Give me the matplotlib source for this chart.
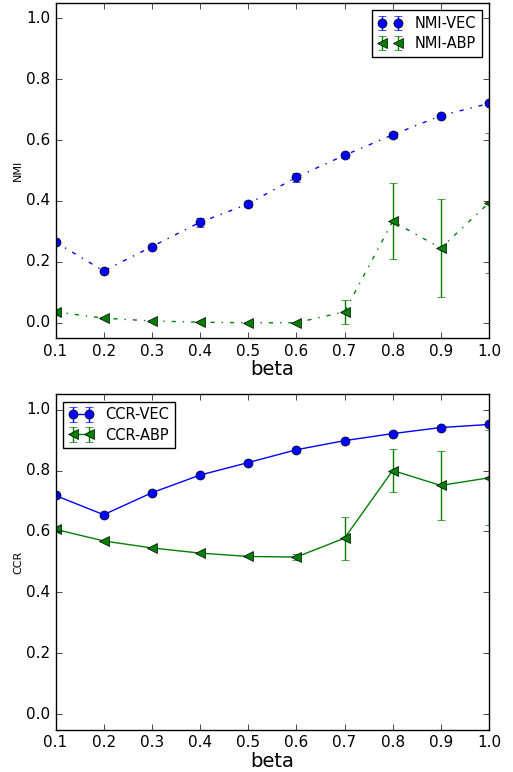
import matplotlib
matplotlib.use("Agg")
import matplotlib.pyplot as plt

plt.style.use('classic')

beta = [0.1, 0.2, 0.3, 0.4, 0.5, 0.6, 0.7, 0.8, 0.9, 1.0]

nmi_vec = [0.265, 0.170, 0.250, 0.330, 0.390, 0.478, 0.550, 0.617, 0.680, 0.720]
nmi_vec_err = [0.005, 0.005, 0.005, 0.015, 0.010, 0.015, 0.008, 0.010, 0.005, 0.005]
nmi_abp = [0.036, 0.015, 0.006, 0.002, 0.000, 0.000, 0.036, 0.333, 0.245, 0.394]
nmi_abp_err = [0.003, 0.003, 0.002, 0.001, 0.001, 0.001, 0.040, 0.125, 0.162, 0.230]

ccr_vec = [0.718, 0.655, 0.727, 0.785, 0.826, 0.868, 0.898, 0.921, 0.941, 0.951]
ccr_vec_err = [0.004, 0.004, 0.004, 0.004, 0.004, 0.004, 0.004, 0.004, 0.004, 0.004]
ccr_abp = [0.607, 0.569, 0.546, 0.529, 0.518, 0.516, 0.578, 0.800, 0.751, 0.776]
ccr_abp_err = [0.003, 0.003, 0.003, 0.003, 0.003, 0.010, 0.070, 0.070, 0.113, 0.156]

fig = plt.figure(figsize=(5.13, 7.72), dpi=100)

leg_kw = dict(fontsize=10.5, labelspacing=0.35, borderpad=0.4, handlelength=1.7)

ax1 = fig.add_axes([55.5 / 513, 1 - 338 / 772, (489 - 55.5) / 513, 335 / 772])
ax1.errorbar(beta, nmi_vec, yerr=nmi_vec_err, color='b', marker='o', markersize=6.5,
             linestyle='-.', label='NMI-VEC')
ax1.errorbar(beta, nmi_abp, yerr=nmi_abp_err, color='g', marker='<', markersize=6.5,
             linestyle='-.', label='NMI-ABP')
ax1.set_xlim(0.1, 1.0)
ax1.set_ylim(-0.05, 1.05)
ax1.set_xlabel('beta', fontsize=14, labelpad=1)
ax1.set_ylabel('NMI', fontsize=8, labelpad=2)
ax1.legend(loc='upper right', **leg_kw)

ax2 = fig.add_axes([55.5 / 513, 1 - 729.6 / 772, (489 - 55.5) / 513, 335.3 / 772])
ax2.errorbar(beta, ccr_vec, yerr=ccr_vec_err, color='b', marker='o', markersize=6.5,
             linestyle='-', label='CCR-VEC')
ax2.errorbar(beta, ccr_abp, yerr=ccr_abp_err, color='g', marker='<', markersize=6.5,
             linestyle='-', label='CCR-ABP')
ax2.set_xlim(0.1, 1.0)
ax2.set_ylim(-0.05, 1.05)
ax2.set_xlabel('beta', fontsize=14, labelpad=1)
ax2.set_ylabel('CCR', fontsize=8, labelpad=2)
ax2.legend(loc='upper left', **leg_kw)

for ax in (ax1, ax2):
    ax.tick_params(labelsize=11)

fig.savefig('out.png', dpi=100)
